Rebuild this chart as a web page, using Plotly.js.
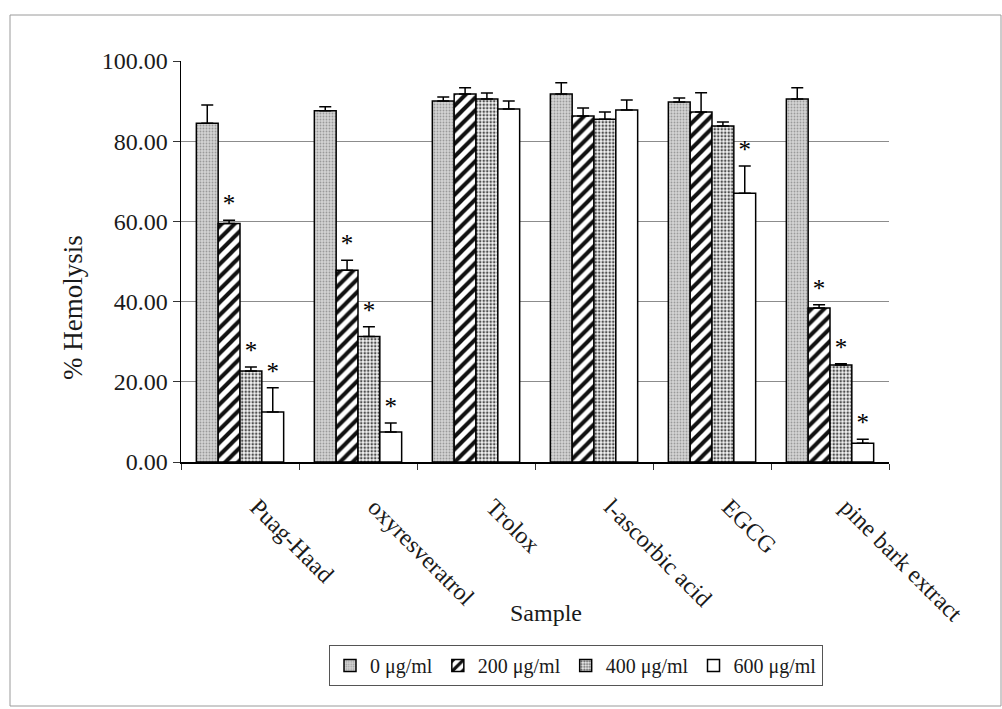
<!DOCTYPE html>
<html>
<head>
<meta charset="utf-8">
<script src="https://cdn.plot.ly/plotly-3.0.1.min.js"></script>
<style>
  html, body { margin: 0; padding: 0; background: #ffffff; }
  #chart { width: 1002px; height: 709px; }
</style>
</head>
<body>
<div id="chart"></div>
<script>
// ---- data ----
const categories = ['Puag-Haad', 'oxyresveratrol', 'Trolox', 'l-ascorbic acid', 'EGCG', 'pine bark extract'];
const seriesNames = ['0 \u03bcg/ml', '200 \u03bcg/ml', '400 \u03bcg/ml', '600 \u03bcg/ml'];

const hem0   = [84.5, 87.6, 90.0, 91.8, 89.8, 90.5];
const err0   = [4.5, 1.0, 1.0, 2.8, 1.0, 2.8];
const hem200 = [59.5, 47.8, 91.8, 86.3, 87.3, 38.4];
const err200 = [0.8, 2.5, 1.5, 2.0, 4.8, 0.8];
const hem400 = [22.7, 31.3, 90.5, 85.5, 83.8, 24.2];
const err400 = [1.0, 2.4, 1.5, 1.8, 1.0, 0.3];
const hem600 = [12.5, 7.5, 88.0, 87.8, 67.0, 4.7];
const err600 = [6.0, 2.2, 2.0, 2.5, 6.8, 1.0];

// significance markers (1 = asterisk shown)
const sig0   = [0, 0, 0, 0, 0, 0];
const sig200 = [1, 1, 0, 0, 0, 1];
const sig400 = [1, 1, 0, 0, 0, 1];
const sig600 = [1, 1, 0, 0, 1, 1];

const yTickVals = [0, 20, 40, 60, 80, 100];

// ---- styles ----
const FONT = '"Liberation Serif", "Times New Roman", serif';
const patterns = [
  {shape: '.', bgcolor: '#d4d4d4', fgcolor: '#9a9a9a', size: 3, solidity: 0.3},
  {shape: '/', bgcolor: '#ffffff', fgcolor: '#111111', size: 9, solidity: 0.45},
  {shape: '.', bgcolor: '#f4f4f4', fgcolor: '#505050', size: 3.5, solidity: 0.42},
  null
];
const baseColors = ['#d4d4d4', '#ffffff', '#f4f4f4', '#ffffff'];

const values = [hem0, hem200, hem400, hem600];
const errors = [err0, err200, err400, err600];
const sigs = [sig0, sig200, sig400, sig600];

const traces = [];
values.forEach((v, i) => {
  const marker = {color: baseColors[i], line: {color: '#000000', width: 1.5}};
  if (patterns[i]) marker.pattern = patterns[i];
  traces.push({
    type: 'bar', name: seriesNames[i], x: categories, y: v,
    marker: marker,
    error_y: {type: 'data', symmetric: false, array: errors[i], arrayminus: errors[i].map(() => 0),
              color: '#000000', thickness: 1.5, width: 6},
    hoverinfo: 'x+y'
  });
});
// invisible bars reaching the error-bar tops, carrying the asterisks
values.forEach((v, i) => {
  traces.push({
    type: 'bar', x: categories, y: v.map((val, k) => val + errors[i][k]),
    xaxis: 'x2', yaxis: 'y', showlegend: false, hoverinfo: 'skip',
    marker: {color: 'rgba(0,0,0,0)', line: {width: 0}},
    text: sigs[i].map(s => s ? '*' : ''), textposition: 'outside', cliponaxis: false,
    constraintext: 'none',
    textfont: {family: FONT, size: 25, color: '#000000'},
    outsidetextfont: {family: FONT, size: 25, color: '#000000'}
  });
});

const L = 181, R = 889, T = 61, B = 462, W = 1002, H = 709;
const px = x => (x - L) / (R - L);
const py = y => (B - y) / (B - T);

const layout = {
  width: W, height: H,
  margin: {l: L, r: W - R, t: T, b: H - B, pad: 0},
  paper_bgcolor: '#ffffff', plot_bgcolor: '#ffffff',
  font: {family: FONT, color: '#1a1a1a', size: 22},
  barmode: 'group', bargap: 0.26, bargroupgap: 0,
  showlegend: true,
  xaxis: {
    type: 'category', range: [-0.5, 5.5],
    tickmode: 'array', tickvals: categories, ticktext: categories.map(c => '\u2003' + c),
    showline: true, linecolor: '#000000', linewidth: 1.5,
    ticks: 'outside', tickson: 'boundaries', ticklen: 6, tickcolor: '#333',
    tickangle: 45, ticklabelstandoff: 3,
    tickfont: {family: FONT, size: 24, color: '#1a1a1a'},
    showgrid: false, zeroline: false, fixedrange: true
  },
  xaxis2: {type: 'category', overlaying: 'x', visible: false, range: [-0.5, 5.5], fixedrange: true},
  yaxis: {
    range: [0, 100], tickvals: yTickVals, tickformat: '.2f',
    showline: true, linecolor: '#000000', linewidth: 1.5,
    ticks: 'outside', ticklen: 7, tickcolor: '#333',
    tickfont: {family: FONT, size: 24, color: '#1a1a1a'},
    showgrid: true, gridcolor: '#8c8c8c', gridwidth: 1,
    zeroline: false, fixedrange: true
  },
  legend: {
    orientation: 'h', x: px(576), xanchor: 'center', y: py(645), yanchor: 'top',
    bgcolor: '#ffffff', bordercolor: '#555555', borderwidth: 1,
    font: {family: FONT, size: 20, color: '#1a1a1a'},
    itemwidth: 30, traceorder: 'normal'
  },
  annotations: [
    {text: 'Sample', xref: 'paper', yref: 'paper', x: px(546), y: py(613),
     xanchor: 'center', yanchor: 'middle', showarrow: false,
     font: {family: FONT, size: 24, color: '#1a1a1a'}},
    {text: '% Hemolysis', xref: 'paper', yref: 'paper', x: px(73), y: py(308),
     xanchor: 'center', yanchor: 'middle', textangle: -90, showarrow: false,
     font: {family: FONT, size: 27, color: '#1a1a1a'}}
  ],
  shapes: [
    {type: 'rect', xref: 'paper', yref: 'paper', x0: px(10), x1: px(1001), y0: py(706), y1: py(15),
     line: {color: '#9a9a9a', width: 1}, fillcolor: 'rgba(0,0,0,0)', layer: 'below'}
  ]
};

Plotly.newPlot('chart', traces, layout, {displayModeBar: false, staticPlot: true});
</script>
</body>
</html>
